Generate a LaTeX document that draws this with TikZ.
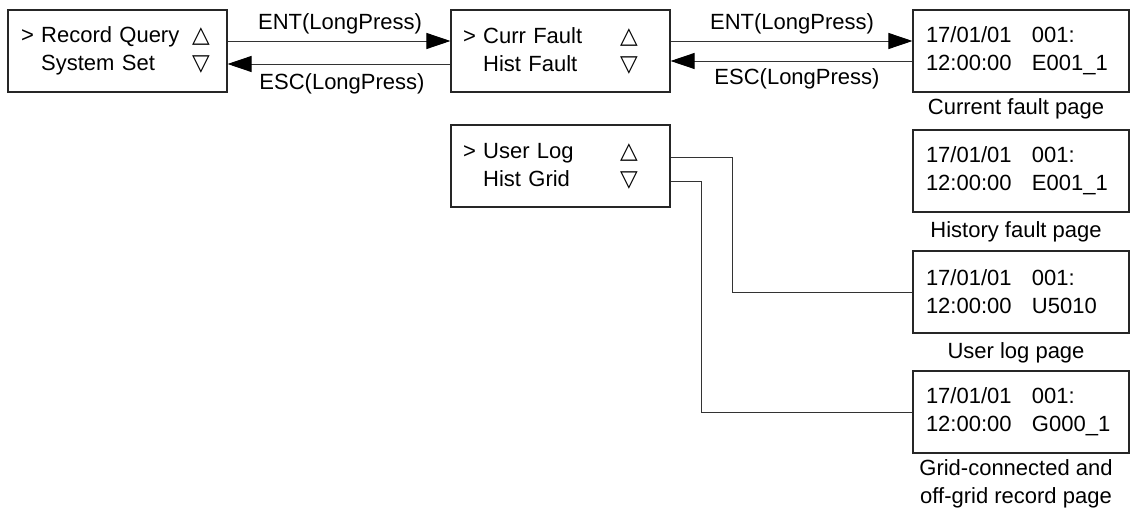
\documentclass[tikz,border=0pt]{standalone}
\usepackage{fontspec}
\setmainfont{Liberation Sans}
\newfontfamily\trifont{DejaVu Sans}
\usetikzlibrary{arrows.meta}
\newcommand{\up}{\makebox[17pt]{\trifont\fontsize{23}{28}\selectfont △}}
\newcommand{\dn}{\makebox[17pt]{\trifont\fontsize{23}{28}\selectfont ▽}}
\newcommand{\pg}[2]{\makebox[106pt][l]{#1}#2}
\begin{document}
\begin{tikzpicture}[x=1pt,y=-1pt,
  every node/.style={font=\fontsize{22}{28}\selectfont, text=black},
  box/.style={draw=black!85, line width=1.1pt, rectangle, minimum height=82pt, inner ysep=0pt, align=left},
  menubox/.style={box, minimum width=219pt, text width=195pt, inner xsep=12pt},
  pagebox/.style={box, minimum width=216pt, text width=190pt, inner xsep=13pt},
  lbl/.style={inner sep=0pt, align=center, font=\fontsize{22}{28}\selectfont},
  arr/.style={draw=black!80, line width=0.9pt, -{Triangle[length=24pt,width=16pt,color=black]}},
  wire/.style={draw=black!80, line width=0.9pt}]
\useasboundingbox (0,0) rectangle (1132,513);

% menu boxes
\node[menubox, inner xsep=13pt, text width=193pt] (m1) at (117.5,51)
  {\makebox[171.5pt][l]{> Record Query}\up\\\makebox[171.5pt][l]{\phantom{> }System Set}\dn};
\node[menubox] (m2) at (560.5,51)
  {\makebox[157.5pt][l]{> Curr Fault}\up\\\makebox[157.5pt][l]{\phantom{> }Hist Fault}\dn};
\node[menubox] (m3) at (560.5,166)
  {\makebox[157.5pt][l]{> User Log}\up\\\makebox[157.5pt][l]{\phantom{> }Hist Grid}\dn};

% page boxes
\node[pagebox] (p1) at (1021,51) {\pg{17/01/01}{001:}\\\pg{12:00:00}{E001\_1}};
\node[pagebox] (p2) at (1021,171) {\pg{17/01/01}{001:}\\\pg{12:00:00}{E001\_1}};
\node[pagebox] (p3) at (1021,292) {\pg{17/01/01}{001:}\\\pg{12:00:00}{U5010}};
\node[pagebox] (p4) at (1021,412) {\pg{17/01/01}{001:}\\\pg{12:00:00}{G000\_1}};

% captions
\node[lbl] (c1) at (1016,109) {Current fault page};
\node[lbl] (c2) at (1016,232) {History fault page};
\node[lbl] (c3) at (1016,353) {User log page};
\node[lbl] (c4) at (1016,484) {Grid-connected and\\off-grid record page};

% arrows
\draw[arr] ([yshift=10pt]m1.east) -- ([yshift=10pt]m2.west);
\draw[arr] ([yshift=-13pt]m2.west) -- ([yshift=-13pt]m1.east);
\draw[arr] ([yshift=10pt]m2.east) -- ([yshift=10pt]p1.west);
\draw[arr] ([yshift=-10pt]p1.west) -- ([yshift=-10pt]m2.east);

\node[lbl] (e1) at (340,24) {ENT(LongPress)};
\node[lbl] (s1) at (342,84) {ESC(LongPress)};
\node[lbl] (e2) at (792,24) {ENT(LongPress)};
\node[lbl] (s2) at (797,79) {ESC(LongPress)};

% connectors
\coordinate (k1) at (732,0);
\coordinate (k2) at (701,0);
\draw[wire] ([yshift=9pt]m3.east) -| (k1 |- p3.west) -- (p3.west);
\draw[wire] ([yshift=-15pt]m3.east) -| (k2 |- p4.west) -- (p4.west);
\end{tikzpicture}
\end{document}
